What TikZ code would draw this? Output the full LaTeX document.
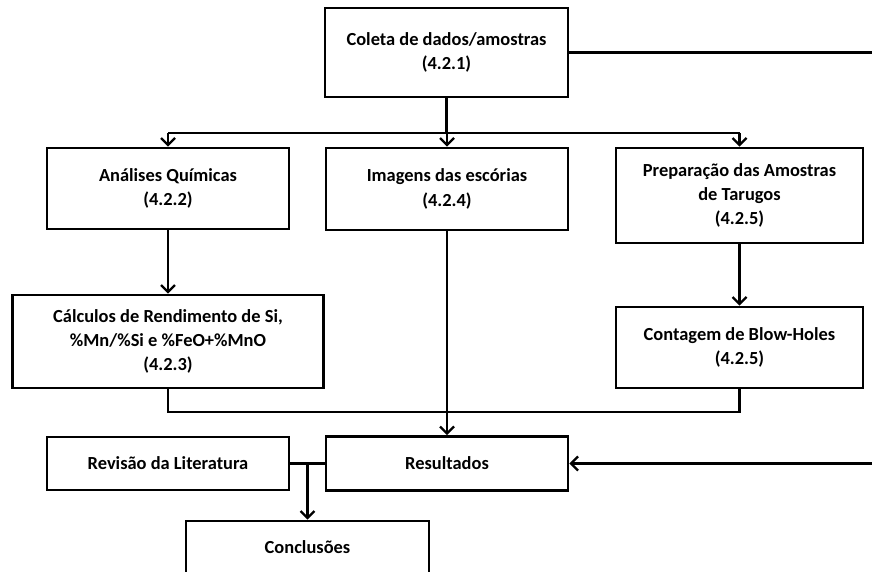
\documentclass[tikz,border=0pt]{standalone}
\usepackage{fontspec}
\setmainfont{Carlito}
\usetikzlibrary{arrows.meta,positioning}

\tikzset{
  caixa/.style={draw,line width=2.6bp,align=center,inner sep=0pt,
    font=\bfseries\fontsize{18.5}{24.5}\selectfont},
  seta/.style={line width=2.6bp,-{Straight Barb[length=7bp,width=14bp,line width=2.4bp]}},
  linha/.style={line width=2.6bp}
}

\begin{document}
\begin{tikzpicture}[x=1bp,y=-1bp]
    \useasboundingbox (0,0) rectangle (872,572);
    % caixas
    \node[caixa,minimum width=243bp,minimum height=89bp] (coleta) at (446.5,52.5) {Coleta de dados/amostras\\(4.2.1)};
    \node[caixa,minimum width=242bp,minimum height=81bp] (analises) at (168,188.5) {Análises Químicas\\(4.2.2)};
    \node[caixa,minimum width=242bp,minimum height=82bp] (imagens) at (447,189) {Imagens das escórias\\(4.2.4)};
    \node[caixa,minimum width=247bp,minimum height=95bp] (prep) at (739.5,195.5) {Preparação das Amostras\\de Tarugos\\(4.2.5)};
    \node[caixa,minimum width=311bp,minimum height=93bp] (calculos) at (168,341.5) {Cálculos de Rendimento de Si,\\\%Mn/\%Si e \%FeO+\%MnO\\(4.2.3)};
    \node[caixa,minimum width=247bp,minimum height=81bp] (contagem) at (739.5,347.5) {Contagem de Blow-Holes\\(4.2.5)};
    \node[caixa,minimum width=242bp,minimum height=53bp] (revisao) at (168,463.5) {Revisão da Literatura};
    \node[caixa,minimum width=242bp,minimum height=54bp] (resultados) at (447,463.5) {Resultados};
    \node[caixa,minimum width=243bp,minimum height=52bp] (conclusoes) at (307.5,547) {Conclusões};
    \coordinate (topo) at (0,133);
    \coordinate (base) at (0,412);
    \coordinate (margem) at (872,0);
    \coordinate (juncao) at (307.5,463.5);
    % ligacoes
    \draw[linha] (coleta.south) -- (coleta.south |- topo);
    \draw[linha] (analises.north |- topo) -- (prep.north |- topo);
    \draw[seta] (analises.north |- topo) -- (analises);
    \draw[seta] (imagens.north |- topo) -- (imagens);
    \draw[seta] (prep.north |- topo) -- (prep);
    \draw[seta] (analises) -- (calculos);
    \draw[seta] (prep) -- (contagem);
    \draw[linha] (calculos.south) -- (calculos.south |- base) -- (contagem.south |- base) -- (contagem.south);
    \draw[seta] (imagens) -- (resultados);
    \draw[linha] (revisao) -- (resultados);
    \draw[seta] (juncao) -- (conclusoes);
    \draw[linha] (coleta.east) -- (coleta.east -| margem);
    \draw[seta] (resultados.east -| margem) -- (resultados);
\end{tikzpicture}
\end{document}
